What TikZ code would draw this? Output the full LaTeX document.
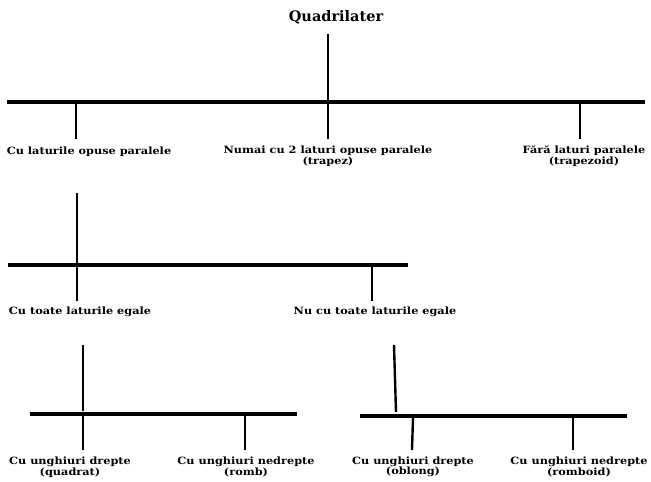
\documentclass[tikz,border=0pt]{standalone}
\usepackage{fontspec}
\setmainfont{DejaVu Serif}
\newfontfamily\widefont[FakeStretch=1.13]{DejaVu Serif}
\begin{document}
\begin{tikzpicture}[x=1pt,y=-1pt,
  lbl/.style={font=\widefont\bfseries\fontsize{10}{10.5}\selectfont, inner sep=0pt, align=center, anchor=center},
  bar/.style={line width=3.2pt},
  stem/.style={line width=2.4pt}]
\useasboundingbox (0,0) rectangle (651,482);
% root
\node[font=\bfseries\fontsize{14.5}{14.5}\selectfont, inner sep=0pt] (root) at (336,17) {Quadrilater};
\coordinate (r1) at (328,34);
\coordinate (b1) at (328,101);
\coordinate (b1l) at (7,102);
\coordinate (b1r) at (645,102);
\draw[stem] (r1) -- (b1);
\draw[bar] (b1l) -- (b1r);
% tier 1 labels
\node[lbl] (opuse) at (89,152) {Cu laturile opuse paralele};
\node[lbl] (trapez) at (328,156) {Numai cu 2 laturi opuse paralele\\(trapez)};
\node[lbl] (fara) at (584,156) {Fără laturi paralele\\(trapezoid)};
\coordinate (d1a) at (76,104); \coordinate (e1a) at (76,139);
\coordinate (d1b) at (328,104); \coordinate (e1b) at (328,139);
\coordinate (d1c) at (580,104); \coordinate (e1c) at (580,139);
\draw[stem] (d1a) -- (e1a);
\draw[stem] (d1b) -- (e1b);
\draw[stem] (d1c) -- (e1c);
% tier 2
\coordinate (s2) at (77,193); \coordinate (t2) at (77,263);
\draw[stem] (s2) -- (t2);
\coordinate (b2l) at (8,265); \coordinate (b2r) at (408,265);
\draw[bar] (b2l) -- (b2r);
\coordinate (d2a) at (77,267); \coordinate (e2a) at (77,301);
\coordinate (d2b) at (372,267); \coordinate (e2b) at (372,301);
\draw[stem] (d2a) -- (e2a);
\draw[stem] (d2b) -- (e2b);
\node[lbl] (egale) at (80,312) {Cu toate laturile egale};
\node[lbl] (negale) at (375,312) {Nu cu toate laturile egale};
% tier 3 left
\coordinate (s3a) at (83,345); \coordinate (t3a) at (83,411);
\draw[stem] (s3a) -- (t3a);
\coordinate (b3al) at (30,414); \coordinate (b3ar) at (297,414);
\draw[bar] (b3al) -- (b3ar);
\coordinate (d3a) at (83,416); \coordinate (e3a) at (83,450);
\coordinate (d3b) at (245,416); \coordinate (e3b) at (245,450);
\draw[stem] (d3a) -- (e3a);
\draw[stem] (d3b) -- (e3b);
\node[lbl] (quadrat) at (70,467) {Cu unghiuri drepte\\(quadrat)};
\node[lbl] (romb) at (246,467) {Cu unghiuri nedrepte\\(romb)};
% tier 3 right
\coordinate (s3b) at (394,345); \coordinate (t3b) at (396,412);
\draw[stem] (s3b) -- (t3b);
\coordinate (b3bl) at (360,416); \coordinate (b3br) at (627,416);
\draw[bar] (b3bl) -- (b3br);
\coordinate (d3c) at (413,418); \coordinate (e3c) at (412,450);
\coordinate (d3d) at (573,418); \coordinate (e3d) at (573,450);
\draw[stem] (d3c) -- (e3c);
\draw[stem] (d3d) -- (e3d);
\node[lbl] (oblong) at (413,467) {Cu unghiuri drepte\\(oblong)};
\node[lbl] (romboid) at (579,467) {Cu unghiuri nedrepte\\(romboid)};
\end{tikzpicture}
\end{document}
